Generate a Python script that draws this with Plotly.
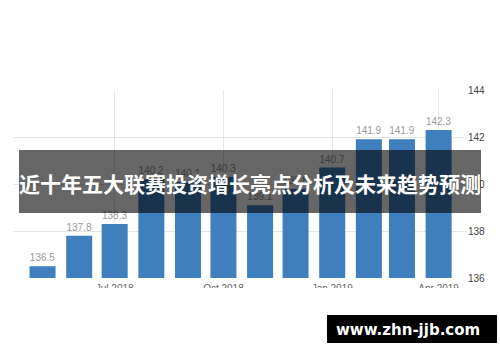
import plotly.graph_objects as go

months = ["2018-05-01", "2018-06-01", "2018-07-01", "2018-08-01", "2018-09-01", "2018-10-01",
          "2018-11-01", "2018-12-01", "2019-01-01", "2019-02-01", "2019-03-01", "2019-04-01"]
values = [136.5, 137.8, 138.3, 140.2, 140.1, 140.3, 139.1, 139.8, 140.7, 141.9, 141.9, 142.3]
y_ticks = [136, 138, 140, 142, 144]
y_floor = 136
title_text = "近十年五大联赛投资增长亮点分析及未来趋势预测"
watermark = "www.zhn-jjb.com"

W, H = 500, 362
L, R, T, B = 13, 33, 90, 84
PW, PH = W - L - R, H - T - B


def px(x):
    return (x - L) / PW


def py(y):
    return (H - B - y) / PH


fig = go.Figure()
fig.add_trace(go.Bar(
    x=months, y=[v - y_floor for v in values], base=y_floor,
    width=[22 * 86400000] * len(months),
    marker=dict(color="#3f7fbd", line=dict(width=0)),
    text=[f"{v:.1f}" for v in values],
    textposition="outside",
    textfont=dict(size=10, color="#9a9a9a", family="Liberation Sans"),
    cliponaxis=False,
    hoverinfo="skip",
))

fig.update_layout(
    width=W, height=H,
    margin=dict(l=L, r=R, t=T, b=B, pad=0),
    plot_bgcolor="white", paper_bgcolor="white",
    showlegend=False,
    xaxis=dict(
        type="date", range=["2018-04-06", "2019-04-25"],
        tick0="2018-07-01", dtick="M3", tickformat="%b %Y",
        showgrid=True, gridcolor="#e6e6e6", gridwidth=1,
        zeroline=False, showline=False, ticks="",
        ticklabelstandoff=3,
        tickfont=dict(size=10, color="#666666", family="Liberation Sans"),
    ),
    yaxis=dict(
        range=[136, 144], side="right", tickvals=y_ticks,
        showgrid=True, gridcolor="#e6e6e6", gridwidth=1,
        zeroline=False, showline=False, ticks="",
        tickfont=dict(size=10, color="#444444", family="Liberation Sans"),
    ),
    font=dict(family="Liberation Sans"),
    shapes=[
        dict(type="rect", xref="paper", yref="paper",
             x0=px(-5), x1=px(W + 5), y0=py(288), y1=py(H + 5),
             fillcolor="white", line=dict(width=0), layer="above"),
        dict(type="rect", xref="paper", yref="paper",
             x0=px(19), x1=px(481), y0=py(213), y1=py(150),
             fillcolor="rgba(0,0,0,0.6)", line=dict(width=0), layer="above"),
        dict(type="rect", xref="paper", yref="paper",
             x0=px(327), x1=px(497), y0=py(343), y1=py(315),
             fillcolor="black", line=dict(width=0), layer="above"),
    ],
    annotations=[
        dict(text=title_text, xref="paper", yref="paper",
             x=px(250), y=py(183), xanchor="center", yanchor="middle",
             showarrow=False,
             font=dict(size=21, color="white", family="Noto Sans CJK SC", weight="bold")),
        dict(text=watermark, xref="paper", yref="paper",
             x=px(408), y=py(330), xanchor="center", yanchor="middle",
             showarrow=False,
             font=dict(size=15, color="white", family="DejaVu Sans", weight="bold")),
    ],
)

fig.write_html("out.html")
